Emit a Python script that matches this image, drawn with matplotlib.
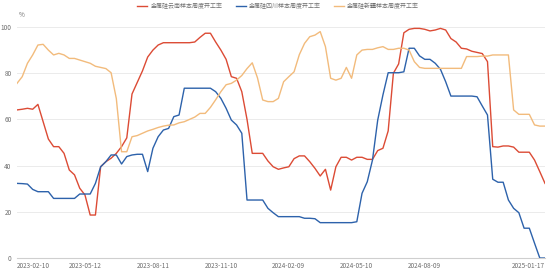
import numpy as np
import pandas as pd
import matplotlib
matplotlib.use("Agg")
import matplotlib.pyplot as plt

plt.rcParams['font.family'] = ['Noto Sans CJK SC', 'DejaVu Sans']

# weekly dates, 2023-02-10 .. 2025-01-17
dates = pd.date_range('2023-02-10', '2025-01-17', freq='7D')

names = ['金属硅云南样本周度开工率', '金属硅四川样本周度开工率', '金属硅新疆样本周度开工率']
colors = ['#dc4b35', '#2d62ab', '#f2bb7c']

yunnan = [64.1, 64.4, 64.8, 64.4, 66.5, 59, 51.5, 48.2, 48.2, 45.3,
          38.1, 36, 30.2, 27.3, 18.6, 18.6, 39.5, 41.7, 43.2, 45.3,
          48.2, 52, 71, 76, 81, 87, 90, 92.2, 93.2, 93.2,
          93.2, 93.2, 93.2, 93.2, 93.5, 95.5, 97.3, 97.3, 93.5, 90,
          86, 78.5, 77.8, 72, 60, 45.3, 45.3, 45.3, 42, 39.5,
          38.4, 39, 39.5, 43, 44.2, 44.2, 41.7, 38.8, 35.5, 38.4,
          29.4, 39.5, 43.6, 43.6, 42.4, 43.6, 43.6, 42.7, 42.7, 46.5,
          47.5, 55, 80, 84, 97.5, 99, 99.4, 99.4, 99, 98.3,
          98.7, 99.4, 98.7, 95, 93.5, 90.8, 90.5, 89.5, 89, 88.5,
          85, 48.2, 48, 48.5, 48.5, 48, 45.8, 45.8, 45.8, 42.4,
          37.4, 32.3]

sichuan = [32.3, 32.2, 32, 29.7, 28.7, 28.7, 28.7, 25.8, 25.8, 25.8,
           25.8, 25.8, 27.7, 27.7, 27.7, 32.3, 39.5, 41.7, 44.6, 44.6,
           40.7, 43.9, 44.6, 44.9, 44.9, 37.4, 47.5, 52.5, 55.4, 56.1,
           61.2, 61.9, 73.5, 73.5, 73.5, 73.5, 73.5, 73.5, 72, 69.1,
           64.8, 59.7, 57.6, 54, 25.1, 25.1, 25.1, 25.1, 21.5, 19.6,
           17.9, 17.9, 17.9, 17.9, 17.9, 17.2, 17.2, 17, 15.3, 15.3,
           15.3, 15.3, 15.3, 15.3, 15.3, 15.7, 28, 33, 42.4, 59.7,
           70.6, 80.2, 80.2, 80.2, 80.6, 90.8, 90.8, 87.5, 86, 86,
           84.3, 81.7, 76.3, 70.1, 70.1, 70.1, 70.1, 70.1, 69.8, 65.8,
           61.9, 34.1, 32.8, 32.8, 25.1, 21.5, 19.6, 12.9, 12.9, 6.4,
           0, 0]

xinjiang = [75.6, 78.5, 84.3, 87.9, 92.2, 92.5, 90, 87.9, 88.6, 87.9,
            86.4, 86.4, 85.7, 85, 84.3, 83, 82.5, 82, 80.2, 69,
            46, 46, 52.5, 53, 54, 55, 55.7, 56.5, 57.1, 57.5,
            57.6, 58.5, 59, 60, 61, 62.6, 62.6, 65.2, 68.5, 72,
            75, 75.6, 77, 79, 82, 84.5, 78, 68.4, 67.7, 67.7,
            69.1, 76.3, 78.5, 80.6, 88, 92.9, 95.8, 96.5, 98, 91.5,
            77.8, 77, 77.8, 82.5, 77.8, 87.9, 90, 90.3, 90.3, 91,
            91.5, 90.3, 90.3, 90.8, 90.8, 90, 85, 82.5, 82.1, 82.1,
            82.1, 82.1, 82.1, 82.1, 82.1, 82.1, 87.2, 87.2, 87.2, 87.4,
            87.4, 87.9, 87.9, 87.9, 87.9, 64.1, 62.2, 62.2, 62.2, 57.6,
            57.1, 57.1]

fig = plt.figure(figsize=(5.53, 2.74), dpi=100)
ax = fig.add_axes([17 / 553, 1 - 258 / 274, 528 / 553, 231 / 274])

x = np.arange(len(dates))
for vals, name, c in zip([yunnan, sichuan, xinjiang], names, colors):
    ax.plot(x, vals, color=c, lw=1.0, label=name)

ax.set_xlim(0, len(dates) - 1)
ax.set_ylim(0, 100)
ax.set_yticks([0, 20, 40, 60, 80, 100])
ax.grid(axis='y', color='#ebebeb', lw=0.7)
ax.set_axisbelow(True)

# category-style labels every 13 weeks, plus the last date
tick_idx = list(range(0, 79, 13)) + [len(dates) - 1]
ax.set_xticks(tick_idx)
labels = ax.set_xticklabels([dates[i].strftime('%Y-%m-%d') for i in tick_idx])
labels[0].set_ha('left')
labels[-1].set_ha('right')

ax.tick_params(axis='both', length=0, labelsize=4.6, colors='#6e6e6e')
ax.tick_params(axis='x', pad=3)
ax.tick_params(axis='y', pad=4)
for s in ['top', 'right', 'left']:
    ax.spines[s].set_visible(False)
ax.spines['bottom'].set_color('#cfcfcf')
ax.spines['bottom'].set_linewidth(0.8)

fig.text(19 / 553, 1 - 15 / 274, '%', fontsize=4.6, color='#6e6e6e', ha='left', va='center')

fig.legend(loc='center', bbox_to_anchor=(0.503, 1 - 6 / 274), ncol=3, frameon=False,
           fontsize=4.3, handlelength=1.7, handletextpad=0.5, columnspacing=2.2,
           labelcolor='#6e6e6e')

fig.savefig('out.png', dpi=100, facecolor='white')
